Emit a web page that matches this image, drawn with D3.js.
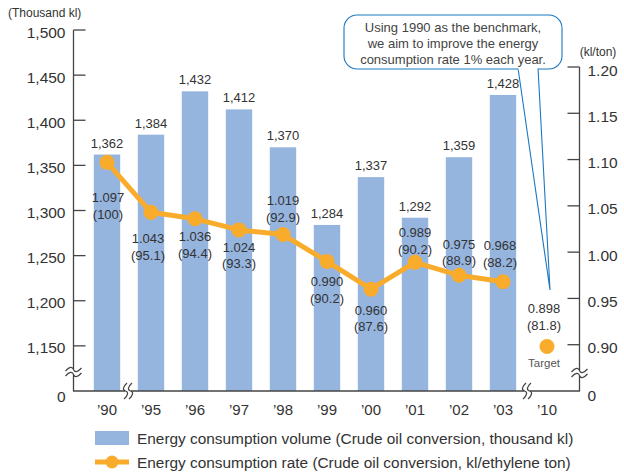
<!DOCTYPE html>
<html>
<head>
<meta charset="utf-8">
<script src="https://cdn.jsdelivr.net/npm/d3@7"></script>
<style>
  body { margin: 0; background: #fff; }
  svg { font-family: "Liberation Sans", Arial, sans-serif; }
</style>
</head>
<body>
<div id="chart"></div>
<script>
// data
const years = ['\u201990', '\u201995', '\u201996', '\u201997', '\u201998', '\u201999', '\u201900', '\u201901', '\u201902', '\u201903', '\u201910'];
const volume = [1362, 1384, 1432, 1412, 1370, 1284, 1337, 1292, 1359, 1428];
const rate = [1.097, 1.043, 1.036, 1.024, 1.019, 0.990, 0.960, 0.989, 0.975, 0.968];
const rateIndex = ['100', '95.1', '94.4', '93.3', '92.9', '90.2', '87.6', '90.2', '88.9', '88.2'];
const target = 0.898;
const targetIndex = '81.8';
const leftTicks = [1150, 1200, 1250, 1300, 1350, 1400, 1450, 1500];
const rightTicks = [0.90, 0.95, 1.00, 1.05, 1.10, 1.15, 1.20];
const noteLines = ['Using 1990 as the benchmark,', 'we aim to improve the energy', 'consumption rate 1% each year.'];

// label placement for the rate values (offset of first line from the dot)
const rateLabelDy = [35, 26, 18, 17, -34, 20, 21, -30, -31, -36];
const rateLabelDx = [1, -3, 0, 0, 0, 0, 0, 0, 0, -3];

const width = 624, height = 472;
const base = 391;
const barColor = '#95b4de';
const lineColor = '#f9ac2c';
const textColor = '#333';
const axisColor = '#444';

const svg = d3.select('#chart').append('svg')
    .attr('width', width)
    .attr('height', height);

const x = d3.scaleBand()
    .domain(years)
    .range([85, 569])
    .paddingInner(0.4)
    .paddingOuter(0.2);

const yL = d3.scaleLinear().domain([1100, 1500]).range([base, 30]);
const yR = d3.scaleLinear().domain([0.85, 1.20]).range([base, 67]);

const cx = d => x(d) + x.bandwidth() / 2;

// bars
svg.append('g').selectAll('rect')
    .data(volume)
    .enter()
    .append('rect')
    .attr('x', (d, i) => x(years[i]))
    .attr('width', x.bandwidth())
    .attr('y', d => yL(d))
    .attr('height', d => base - yL(d))
    .attr('fill', barColor);

svg.append('g').selectAll('text')
    .data(volume)
    .enter()
    .append('text')
    .attr('x', (d, i) => cx(years[i]))
    .attr('y', d => yL(d) - 7)
    .attr('text-anchor', 'middle')
    .attr('font-size', 13)
    .attr('fill', textColor)
    .text(d => d3.format(',')(d));

// left axis
const gL = svg.append('g').attr('transform', 'translate(73.5,0)');
gL.append('line').attr('y1', 30).attr('y2', base).attr('stroke', axisColor).attr('stroke-width', 1.3);
gL.selectAll('line.tick')
    .data(leftTicks)
    .enter()
    .append('line')
    .attr('class', 'tick')
    .attr('x1', 0).attr('x2', 12)
    .attr('y1', d => yL(d)).attr('y2', d => yL(d))
    .attr('stroke', axisColor).attr('stroke-width', 1.3);
gL.selectAll('text')
    .data(leftTicks)
    .enter()
    .append('text')
    .attr('x', -8)
    .attr('y', d => yL(d) + 2)
    .attr('dy', '0.36em')
    .attr('text-anchor', 'end')
    .attr('font-size', 15.5)
    .attr('fill', textColor)
    .text(d => d3.format(',')(d));
gL.append('text').attr('x', -8).attr('y', base + 5).attr('dy', '0.36em')
    .attr('text-anchor', 'end').attr('font-size', 15.5).attr('fill', textColor).text('0');

// right axis
const gR = svg.append('g').attr('transform', 'translate(579.5,0)');
gR.append('line').attr('y1', 67).attr('y2', base).attr('stroke', axisColor).attr('stroke-width', 1.3);
gR.selectAll('line.tick')
    .data(rightTicks)
    .enter()
    .append('line')
    .attr('class', 'tick')
    .attr('x1', 0).attr('x2', -12)
    .attr('y1', d => yR(d)).attr('y2', d => yR(d))
    .attr('stroke', axisColor).attr('stroke-width', 1.3);
gR.selectAll('text')
    .data(rightTicks)
    .enter()
    .append('text')
    .attr('x', 8)
    .attr('y', d => yR(d) + 3)
    .attr('dy', '0.36em')
    .attr('font-size', 15.5)
    .attr('fill', textColor)
    .text(d => d3.format('.2f')(d));
gR.append('text').attr('x', 8).attr('y', base + 4).attr('dy', '0.36em')
    .attr('font-size', 15.5).attr('fill', textColor).text('0');

// bottom axis
svg.append('line').attr('x1', 73).attr('x2', 580).attr('y1', base).attr('y2', base)
    .attr('stroke', axisColor).attr('stroke-width', 1.3);
svg.append('g').selectAll('text')
    .data(years)
    .enter()
    .append('text')
    .attr('x', d => cx(d))
    .attr('y', 410)
    .attr('dy', '0.36em')
    .attr('text-anchor', 'middle')
    .attr('font-size', 15)
    .attr('fill', textColor)
    .text(d => d);

// axis unit labels
svg.append('text').attr('x', 8).attr('y', 17).attr('font-size', 12).attr('fill', textColor).text('(Thousand kl)');
svg.append('text').attr('x', 598).attr('y', 56).attr('text-anchor', 'middle').attr('font-size', 12).attr('fill', textColor).text('(kl/ton)');

// axis breaks
function vBreak(px, py) {
    const g = svg.append('g').attr('transform', `translate(${px},${py})`);
    g.append('rect').attr('x', -9).attr('y', -3).attr('width', 18).attr('height', 6).attr('fill', '#fff');
    [-2.5, 2.5].forEach(o => {
        g.append('path')
            .attr('d', `M-8,${o + 1.5} C-4,${o - 3} -1,${o - 3} 0,${o} S4,${o + 3} 8,${o - 1.5}`)
            .attr('fill', 'none').attr('stroke', axisColor).attr('stroke-width', 1.2);
    });
}
function hBreak(px, py) {
    const g = svg.append('g').attr('transform', `translate(${px},${py})`);
    g.append('rect').attr('x', -3).attr('y', -8).attr('width', 6).attr('height', 16).attr('fill', '#fff');
    [-2.5, 2.5].forEach(o => {
        g.append('path')
            .attr('d', `M${o + 1.5},-8 C${o - 3},-4 ${o - 3},-1 ${o},0 S${o + 3},4 ${o - 1.5},8`)
            .attr('fill', 'none').attr('stroke', axisColor).attr('stroke-width', 1.2);
    });
}
vBreak(73.5, 372);
vBreak(579.5, 373);
hBreak(128, base);
hBreak(527, base);

// rate line
const line = d3.line()
    .x((d, i) => cx(years[i]))
    .y(d => yR(d));

svg.append('path')
    .datum(rate)
    .attr('d', line)
    .attr('fill', 'none')
    .attr('stroke', lineColor)
    .attr('stroke-width', 5)
    .attr('stroke-linejoin', 'round');

svg.append('g').selectAll('circle')
    .data(rate)
    .enter()
    .append('circle')
    .attr('cx', (d, i) => cx(years[i]))
    .attr('cy', d => yR(d))
    .attr('r', 7.5)
    .attr('fill', lineColor);

const rl = svg.append('g').selectAll('text')
    .data(rate)
    .enter()
    .append('text')
    .attr('text-anchor', 'middle')
    .attr('font-size', 13)
    .attr('fill', textColor);
rl.append('tspan')
    .attr('x', (d, i) => cx(years[i]) + rateLabelDx[i])
    .attr('y', (d, i) => yR(d) + rateLabelDy[i])
    .attr('dy', '0.36em')
    .text(d => d3.format('.3f')(d));
rl.append('tspan')
    .attr('x', (d, i) => cx(years[i]) + rateLabelDx[i])
    .attr('y', (d, i) => yR(d) + rateLabelDy[i] + 16.5)
    .attr('dy', '0.36em')
    .text((d, i) => `(${rateIndex[i]})`);

// target
const tx = cx(years[10]);
svg.append('circle').attr('cx', tx).attr('cy', yR(target)).attr('r', 7.5).attr('fill', lineColor);
const tt = svg.append('text').attr('text-anchor', 'middle').attr('font-size', 13).attr('fill', textColor);
tt.append('tspan').attr('x', tx - 3).attr('y', yR(target) - 38).attr('dy', '0.36em').text(d3.format('.3f')(target));
tt.append('tspan').attr('x', tx - 3).attr('y', yR(target) - 21.5).attr('dy', '0.36em').text(`(${targetIndex})`);
svg.append('text').attr('x', tx - 3).attr('y', yR(target) + 16).attr('dy', '0.36em')
    .attr('text-anchor', 'middle').attr('font-size', 11.5).attr('fill', '#555').text('Target');

// callout
const calloutColor = '#1b78c2';
svg.append('path')
    .attr('d', 'M518,68 L550,290 L538,68')
    .attr('fill', '#fff')
    .attr('stroke', calloutColor)
    .attr('stroke-width', 1.1);
svg.append('rect')
    .attr('x', 344).attr('y', 15).attr('width', 218).attr('height', 54)
    .attr('rx', 13).attr('ry', 13)
    .attr('fill', '#fff')
    .attr('stroke', calloutColor)
    .attr('stroke-width', 1.1);
svg.append('line').attr('x1', 518.5).attr('x2', 537.5).attr('y1', 69).attr('y2', 69)
    .attr('stroke', '#fff').attr('stroke-width', 2);
svg.append('g').selectAll('text')
    .data(noteLines)
    .enter()
    .append('text')
    .attr('x', 453)
    .attr('y', (d, i) => 27 + i * 16)
    .attr('dy', '0.36em')
    .attr('text-anchor', 'middle')
    .attr('font-size', 13)
    .attr('fill', '#444')
    .text(d => d);

// legend
const lg = svg.append('g');
lg.append('rect').attr('x', 95).attr('y', 431).attr('width', 34).attr('height', 14).attr('fill', barColor);
lg.append('text').attr('x', 137).attr('y', 438).attr('dy', '0.36em').attr('font-size', 15.4).attr('fill', textColor)
    .text('Energy consumption volume (Crude oil conversion, thousand kl)');
lg.append('line').attr('x1', 95).attr('x2', 129).attr('y1', 462).attr('y2', 462)
    .attr('stroke', lineColor).attr('stroke-width', 5);
lg.append('circle').attr('cx', 112).attr('cy', 462).attr('r', 6.5).attr('fill', lineColor);
lg.append('text').attr('x', 137).attr('y', 462).attr('dy', '0.36em').attr('font-size', 15.4).attr('fill', textColor)
    .text('Energy consumption rate (Crude oil conversion, kl/ethylene ton)');
</script>
</body>
</html>
